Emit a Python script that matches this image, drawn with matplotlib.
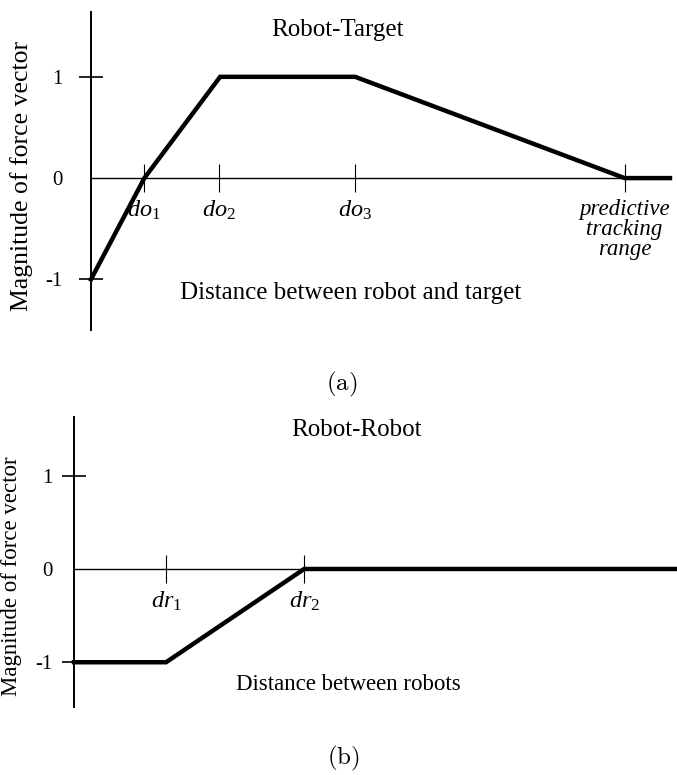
import numpy as np
import matplotlib.pyplot as plt

plt.rcParams['font.family'] = 'Liberation Serif'
plt.rcParams['mathtext.fontset'] = 'custom'
plt.rcParams['mathtext.rm'] = 'Liberation Serif'
plt.rcParams['mathtext.it'] = 'Liberation Serif:italic'

# robot-target force profile
tgt_x = [0.0, 1.0, 2.42, 4.95, 10.0, 10.85]
tgt_y = [-1, 0, 1, 1, 0, 0]
do_pos = [1.0, 2.4, 4.95, 10.0]
do_labels = [r'$do_{\mathit{1}}$', r'$do_{\mathit{2}}$', r'$do_{\mathit{3}}$',
             'predictive\ntracking\nrange']

# robot-robot force profile
rob_x = [0.0, 1.0, 2.5, 6.55]
rob_y = [-1, -1, 0, 0]
dr_pos = [1.0, 2.5]
dr_labels = [r'$dr_{\mathit{1}}$', r'$dr_{\mathit{2}}$']

ytick_vals = [-1, 0, 1]
ytick_labels = ['-1', '0', '1']

W, H = 677, 775
fig = plt.figure(figsize=(W/100, H/100), dpi=100)

def px_axes(x0, x1, y0, y1):
    # axes box from pixel edges (y measured from top)
    return fig.add_axes([x0/W, 1 - y1/H, (x1 - x0)/W, (y1 - y0)/H])

def setup(ax, xmax, ylo, yhi, xt, xtl, xfs, ypad):
    ax.set_xlim(0, xmax)
    ax.set_ylim(ylo, yhi)
    ax.patch.set_visible(False)
    ax.spines['top'].set_visible(False)
    ax.spines['right'].set_visible(False)
    ax.spines['bottom'].set_position(('data', 0))
    ax.spines['left'].set_linewidth(1.4)
    ax.spines['bottom'].set_linewidth(1.0)
    ax.set_yticks(ytick_vals)
    ax.set_yticklabels(ytick_labels, fontsize=15)
    ax.tick_params(axis='y', direction='inout', length=17, width=1.2, pad=ypad)
    ax.yaxis.get_major_ticks()[1].tick1line.set_visible(False)
    ax.set_xticks(xt)
    ax.set_xticklabels(xtl, fontsize=xfs, style='italic', linespacing=0.95)
    ax.tick_params(axis='x', direction='inout', length=20, width=0.8, pad=5)

# (a) Robot-Target
ax1 = px_axes(91, 670, 12, 330)
setup(ax1, 10.85, -1.50, 1.64, do_pos, do_labels, 17.5, 12)
ax1.get_xticklabels()[-1].set_fontsize(16.5)
ax1.plot(tgt_x, tgt_y, color='black', lw=3.2, solid_joinstyle='miter', clip_on=False)
ax1.text((337 - 91)/579, 1 - (30 - 12)/318, 'Robot-Target', transform=ax1.transAxes,
         ha='center', va='center', fontsize=18)
ax1.text((351 - 91)/579, 1 - (293 - 12)/318, 'Distance between robot and target',
         transform=ax1.transAxes, ha='center', va='center', fontsize=18)
fig.text(22/W, 1 - 176/H, 'Magnitude of force vector', rotation=90,
         ha='center', va='center', fontsize=18.5)
fig.text(342/W, 1 - 384/H, r'$\mathrm{(a)}$', math_fontfamily='cm',
         ha='center', va='center', fontsize=18)

# (b) Robot-Robot
ax2 = px_axes(74, 677, 417, 707)
setup(ax2, 6.55, -1.48, 1.63, dr_pos, dr_labels, 17.5, 7)
ax2.plot(rob_x, rob_y, color='black', lw=3.2, solid_joinstyle='miter', clip_on=False)
ax2.text((356 - 74)/603, 1 - (430 - 417)/290, 'Robot-Robot', transform=ax2.transAxes,
         ha='center', va='center', fontsize=18)
ax2.text((348 - 74)/603, 1 - (685 - 417)/290, 'Distance between robots',
         transform=ax2.transAxes, ha='center', va='center', fontsize=16.5)
fig.text(1/W, 1 - 576/H, 'Magnitude of force vector', rotation=90,
         ha='left', va='center', fontsize=16.5)
fig.text(343/W, 1 - 758/H, r'$\mathrm{(b)}$', math_fontfamily='cm',
         ha='center', va='center', fontsize=18)

fig.savefig('out.png', dpi=100)
